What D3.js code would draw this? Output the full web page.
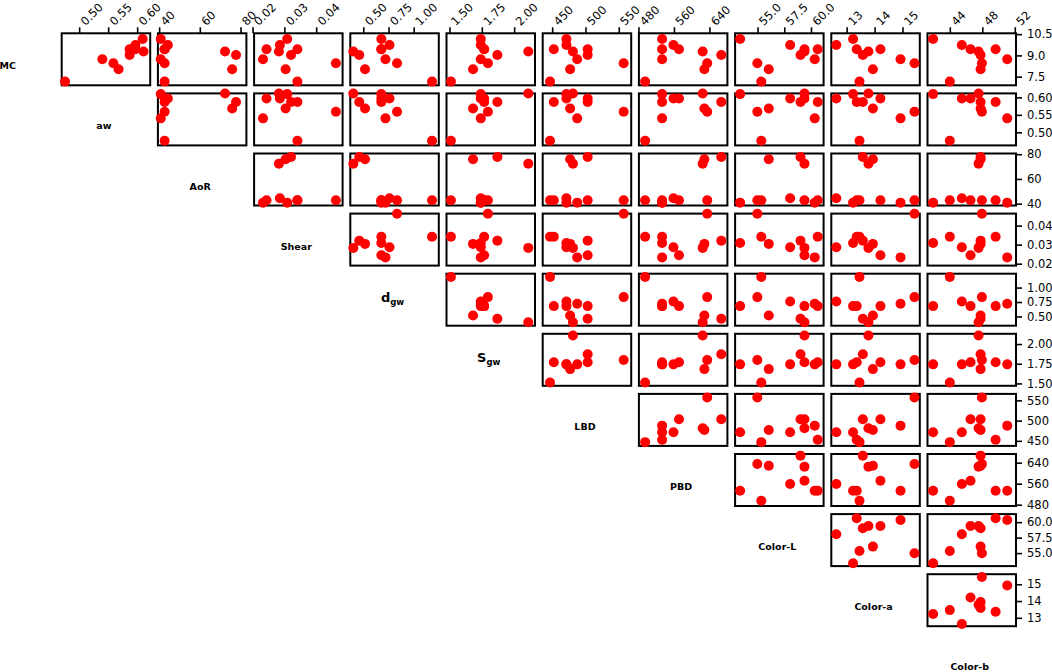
<!DOCTYPE html>
<html>
<head>
<meta charset="utf-8">
<script src="https://cdn.jsdelivr.net/npm/d3@7"></script>
<style>
  body { margin: 0; background: #fff; }
  svg { display: block; font-family: "DejaVu Sans", Verdana, sans-serif; }
</style>
</head>
<body>
<svg id="chart" width="1052" height="672"></svg>
<script>
// ---------------- DATA (10 samples, one value per sample) ----------------
const varNames = ["MC", "aw", "AoR", "Shear", "dgw", "Sgw", "LBD", "PBD", "Color-L", "Color-a", "Color-b"];

const MC     = [10.16, 7.15, 9.74, 9.43, 9.27, 9.03, 8.45, 8.02, 9.43, 8.73];
const aw     = [0.6095, 0.4756, 0.597, 0.597, 0.611, 0.587, 0.559, 0.568, 0.587, 0.540];
const AoR    = [40.8, 42.7, 44.3, 42.7, 72.4, 77.8, 42.7, 75.9, 42.7, 40.8];
const Shear  = [0.0309, 0.0341, 0.0286, 0.0244, 0.0283, 0.0321, 0.0462, 0.0304, 0.0341, 0.0233];
const dgw    = [0.679, 1.182, 0.760, 0.679, 0.401, 0.460, 0.835, 0.517, 0.679, 0.720];
const Sgw    = [1.742, 1.511, 1.742, 1.768, 2.109, 1.870, 1.797, 1.682, 1.768, 1.742];
const LBD    = [471.4, 446.8, 471.4, 503.3, 481.2, 503.3, 557.4, 477.0, 452.5, 487.6];
const PBD    = [533.3, 495.0, 558.9, 571.4, 624.8, 666.7, 635.0, 628.6, 533.3, 533.3];
const ColorL = [53.37, 55.35, 58.05, 59.39, 59.39, 59.02, 54.98, 56.05, 60.63, 60.35];
const ColorA = [13.23, 13.46, 12.63, 14.21, 13.78, 13.58, 15.43, 13.94, 13.36, 14.93];
const ColorB = [41.94, 44.00, 45.48, 46.55, 47.54, 47.79, 47.95, 47.79, 49.64, 51.07];

const columns = [MC, aw, AoR, Shear, dgw, Sgw, LBD, PBD, ColorL, ColorA, ColorB];

// axis extents of each variable when used horizontally / vertically
const xLimits = [null, [0.4699, 0.6225], [39.4, 82.9], [0.0205, 0.0483], [0.371, 1.249],
                 [1.477, 2.161], [435.8, 568.7], [481, 680.5], [52.9, 61.18], [12.45, 15.62], [41.25, 52.15]];
const yLimits = [[6.89, 10.56], [0.4625, 0.6115], [38.5, 80.6], [0.019, 0.0463], [0.34, 1.24],
                 [1.47, 2.13], [437.5, 566], [475, 673], [52.9, 61.3], [12.5, 15.6], null];

// tick values and labels
const tickValues = [[7.5, 9.0, 10.5], [0.50, 0.55, 0.60], [40, 60, 80], [0.02, 0.03, 0.04],
                    [0.50, 0.75, 1.00], [1.50, 1.75, 2.00], [450, 500, 550], [480, 560, 640],
                    [55.0, 57.5, 60.0], [13, 14, 15], [44, 48, 52]];
const tickLabels = [["7.5", "9.0", "10.5"], ["0.50", "0.55", "0.60"], ["40", "60", "80"], ["0.02", "0.03", "0.04"],
                    ["0.50", "0.75", "1.00"], ["1.50", "1.75", "2.00"], ["450", "500", "550"], ["480", "560", "640"],
                    ["55.0", "57.5", "60.0"], ["13", "14", "15"], ["44", "48", "52"]];

// ---------------- LAYOUT ----------------
const svg = d3.select("#chart");
svg.append("rect").attr("width", 1052).attr("height", 672).attr("fill", "#fff");

const left0 = 61.7, pitchX = 96.2, pw = 88.5;
const top0 = 33.3, pitchY = 60.1, ph = 52;
const nRows = 10;  // y variables MC..Color-a
const colLeft = j => left0 + pitchX * j;
const rowTop = i => top0 + pitchY * i;

const xScales = d3.range(nRows).map(j =>
  d3.scaleLinear().domain(xLimits[j + 1]).range([colLeft(j), colLeft(j) + pw]));
const yScales = d3.range(nRows).map(i =>
  d3.scaleLinear().domain(yLimits[i]).range([rowTop(i) + ph, rowTop(i)]));

const n = MC.length;
const panels = svg.append("g");

for (let i = 0; i < nRows; i++) {
  for (let j = i; j < nRows; j++) {
    const xs = xScales[j], ys = yScales[i];
    const xv = columns[j + 1], yv = columns[i];
    const g = panels.append("g");
    g.append("rect")
      .attr("x", colLeft(j)).attr("y", rowTop(i))
      .attr("width", pw).attr("height", ph)
      .attr("fill", "none").attr("stroke", "#000").attr("stroke-width", 2);
    g.selectAll("circle").data(d3.range(n)).join("circle")
      .attr("cx", k => xs(xv[k]))
      .attr("cy", k => ys(yv[k]))
      .attr("r", 5)
      .attr("fill", "#ff0000");
  }
}

// ---------------- TOP AXES (x variables) ----------------
for (let j = 0; j < nRows; j++) {
  const v = j + 1;
  const ax = d3.axisTop(xScales[j])
    .tickValues(tickValues[v])
    .tickFormat((d, k) => tickLabels[v][k])
    .tickSize(6).tickSizeOuter(0);
  const g = svg.append("g").attr("transform", `translate(0,${rowTop(0)})`).call(ax);
  g.select(".domain").remove();
  g.selectAll(".tick line").attr("stroke", "#000").attr("stroke-width", 1.6);
  g.selectAll(".tick text")
    .attr("x", 0).attr("y", 0).attr("dy", null)
    .attr("transform", "translate(3,-10) rotate(-45)")
    .attr("text-anchor", "start")
    .attr("dominant-baseline", "central")
    .attr("font-size", 11.5)
    .attr("font-family", "DejaVu Sans, Verdana, sans-serif")
    .attr("fill", "#000");
}

// ---------------- RIGHT AXES (y variables) ----------------
for (let i = 0; i < nRows; i++) {
  const ax = d3.axisRight(yScales[i])
    .tickValues(tickValues[i])
    .tickFormat((d, k) => tickLabels[i][k])
    .tickSize(6).tickSizeOuter(0).tickPadding(5);
  const g = svg.append("g").attr("transform", `translate(${colLeft(nRows - 1) + pw},0)`).call(ax);
  g.select(".domain").remove();
  g.selectAll(".tick line").attr("stroke", "#000").attr("stroke-width", 1.6);
  g.selectAll(".tick text")
    .attr("font-size", 11.5)
    .attr("font-family", "DejaVu Sans, Verdana, sans-serif")
    .attr("fill", "#000");
}

// ---------------- DIAGONAL VARIABLE NAMES ----------------
const labels = svg.append("g").attr("font-weight", "bold").attr("fill", "#000");
varNames.forEach((name, i) => {
  const cx = colLeft(i - 1) + pw / 2 - 2;
  const cy = rowTop(i) + ph / 2;
  if (name === "dgw" || name === "Sgw") {
    const t = labels.append("text")
      .attr("x", cx).attr("y", cy + 2.5)
      .attr("text-anchor", "middle");
    t.append("tspan").attr("font-size", 13).text(name[0]);
    t.append("tspan").attr("font-size", 8.5).attr("dy", 3).text(name.slice(1));
  } else {
    labels.append("text")
      .attr("x", cx).attr("y", cy + 6.5)
      .attr("text-anchor", "middle")
      .attr("dominant-baseline", "central")
      .attr("font-size", 9.5)
      .text(name);
  }
});
</script>
</body>
</html>
